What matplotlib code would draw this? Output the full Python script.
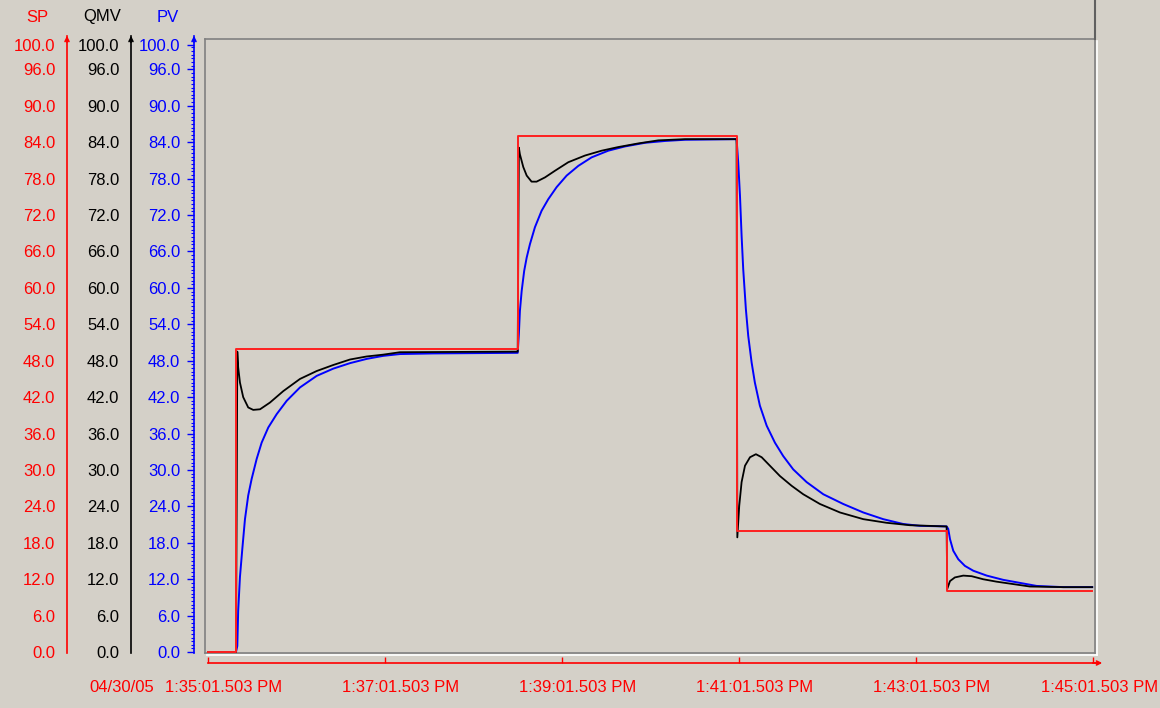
"""
SP / QMV / PV trend chart (setpoint steps with controller output and process value).
"""

import matplotlib
matplotlib.use("Agg")
import matplotlib.pyplot as plt
from matplotlib import font_manager
from matplotlib.transforms import blended_transform_factory, offset_copy

W, H = 1160, 708
BG = "#d4d0c8"

# ---- data (seconds after 04/30/05 1:35:01.503 PM) ----
sp_time = [0, 19.0, 210.0, 358.4, 500.8, 599.5]
sp_value = [0, 50, 85, 20, 10, 10]

pv_time = [0, 19.0,
           19.9, 20.5, 21.7, 23.3, 25.1, 27.3, 29.6, 33.0, 36.4, 40.9,
           46.6, 53.4, 62.4, 73.7, 85.0, 96.3, 107.6, 118.8, 130.2, 152.8,
           210.0,
           210.8, 211.5, 212.7, 214.4, 216.1, 218.3, 221.7, 226.2, 230.7,
           236.4, 243.2, 251.1, 260.1, 271.4, 282.7, 296.3, 309.8, 323.4,
           358.4,
           359.5, 360.7, 361.8, 362.9, 364.7, 366.3, 368.6, 370.8, 374.2,
           378.8, 384.4, 390.0, 396.8, 405.9, 417.2, 430.7, 444.3, 457.8,
           471.4, 482.7,
           500.8,
           501.9, 503.1, 505.3, 508.7, 513.2, 518.9, 528.0, 539.2, 550.5,
           561.8, 579.9, 599.5]
pv_value = [0, 0,
            1.0, 6.8, 12.4, 17.0, 21.9, 25.8, 28.5, 31.8, 34.5, 37.0,
            39.2, 41.4, 43.6, 45.5, 46.7, 47.6, 48.3, 48.8, 49.1, 49.2,
            49.3,
            52.4, 56.2, 59.5, 62.8, 65.0, 67.2, 70.0, 72.7, 74.6,
            76.6, 78.5, 80.1, 81.5, 82.6, 83.3, 83.9, 84.2, 84.4,
            84.5,
            80.7, 75.2, 68.6, 63.1, 56.5, 52.1, 47.7, 44.4, 40.6,
            37.3, 34.5, 32.3, 30.1, 28.0, 26.0, 24.4, 23.0, 21.9,
            21.1, 20.8,
            20.7,
            20.3, 18.6, 16.7, 15.3, 14.2, 13.4, 12.6, 11.9, 11.4,
            10.9, 10.7, 10.7]

qmv_time = [0, 19.0, 19.5, 19.9, 20.5, 21.7, 23.9, 27.3, 30.7, 35.3, 42.0,
            51.1, 62.4, 73.7, 85.0, 96.3, 107.6, 118.8, 130.2,
            210.0, 210.8, 211.5, 213.8, 216.1, 219.4, 222.8, 228.5, 235.3,
            244.3, 255.6, 266.9, 278.2, 291.8, 305.3, 323.4,
            358.4, 358.9, 360.2, 361.8, 364.1, 367.5, 371.5, 375.4, 381.0,
            387.8, 395.7, 403.6, 414.9, 428.5, 444.3, 460.1, 475.9,
            500.8, 501.2, 503.1, 506.4, 512.1, 517.8, 525.6, 534.7, 546.0,
            557.3, 579.9, 599.5]
qmv_value = [0, 0, 24.9, 49.5, 46.9, 44.4, 42.0, 40.3, 39.9, 40.0, 41.1,
             43.0, 45.0, 46.3, 47.3, 48.2, 48.7, 49.0, 49.4,
             49.5, 83.1, 82.0, 79.9, 78.5, 77.5, 77.5, 78.2, 79.3,
             80.7, 81.8, 82.6, 83.2, 83.8, 84.3, 84.5,
             84.5, 18.9, 24.1, 28.0, 30.7, 32.1, 32.6, 32.1, 30.7,
             29.0, 27.4, 26.0, 24.4, 23.0, 21.9, 21.3, 20.9,
             20.7, 10.4, 11.7, 12.3, 12.6, 12.5, 12.0, 11.6, 11.2,
             10.8, 10.7, 10.7]

y_ticks = [0, 6, 12, 18, 24, 30, 36, 42, 48, 54, 60, 66, 72, 78, 84, 90, 96, 100]
x_ticks = [0, 120, 240, 360, 480, 600]
x_labels = ["1:35:01.503 PM", "1:37:01.503 PM", "1:39:01.503 PM",
            "1:41:01.503 PM", "1:43:01.503 PM", "1:45:01.503 PM"]
date_label = "04/30/05"

# ---- font ----
names = {f.name for f in font_manager.fontManager.ttflist}
if "Liberation Sans Narrow" in names:
    FONT, FS = "Liberation Sans Narrow", 13.5
else:
    FONT, FS = "Liberation Sans", 12
plt.rcParams["font.family"] = [FONT, "DejaVu Sans"]


def fx(px):
    return px / W


def fy(py):
    return 1 - py / H


fig = plt.figure(figsize=(W / 100, H / 100), dpi=100, facecolor=BG)

# main plot area
ax = fig.add_axes([fx(205), fy(653), fx(1095 - 205), (653 - 39) / H])
ax.set_facecolor(BG)
ax.set_xlim(-2.0, 601.4)
ax.set_ylim(-0.15, 101.0)
ax.set_xticks([])
ax.set_yticks([])
for s in ax.spines.values():
    s.set_color("#808080")
    s.set_linewidth(1.2)

ax.plot(pv_time, pv_value, color="#0000ff", lw=1.4, zorder=3)
ax.plot(qmv_time, qmv_value, color="black", lw=1.3, zorder=4)
ax.plot(sp_time, sp_value, color="#ff2020", lw=1.4, drawstyle="steps-post", zorder=5)

# white highlight of the sunken frame
fig.add_artist(plt.Line2D([fx(1097), fx(1097)], [fy(41), fy(655)], color="white", lw=1.2))
fig.add_artist(plt.Line2D([fx(207), fx(1097)], [fy(655), fy(655)], color="white", lw=1.2))
fig.add_artist(plt.Line2D([fx(1095), fx(1095)], [fy(0), fy(39)], color="#606060", lw=1.5))

# y axes (SP, QMV, PV)
yfmt = [f"{v:.1f}" for v in y_ticks]
axes_spec = [("SP", "#ff0000", 67, 37, 0), ("QMV", "black", 131, 102, 0), ("PV", "#0000ff", 194, 168, 5)]
for name, col, xpos, title_x, tlen in axes_spec:
    a = fig.add_axes([fx(xpos), fy(653), 0.0001, (653 - 39) / H])
    a.set_ylim(ax.get_ylim())
    a.patch.set_visible(False)
    for s in a.spines.values():
        s.set_visible(False)
    a.set_xticks([])
    a.set_yticks(y_ticks)
    a.set_yticklabels(yfmt)
    a.tick_params(axis="y", colors=col, labelcolor=col, labelsize=FS,
                  length=tlen, width=1, pad=(11 - tlen) * 0.72 + 0.5)
    if tlen:
        a.set_yticks([i * 0.6 for i in range(167)], minor=True)
        a.tick_params(axis="y", which="minor", colors=col, length=2.5, width=0.8)
    fig.add_artist(plt.Line2D([fx(xpos), fx(xpos)], [fy(653), fy(36)], color=col, lw=1.2))
    a.annotate("", xy=(fx(xpos), fy(33)), xytext=(fx(xpos), fy(45)),
               xycoords="figure fraction", textcoords="figure fraction",
               arrowprops=dict(arrowstyle="->", color=col, lw=1.2, mutation_scale=7))
    fig.text(fx(title_x), fy(17), name, color=col, fontsize=FS, ha="center", va="center")

# x axis
fig.add_artist(plt.Line2D([fx(208), fx(1098)], [fy(663), fy(663)], color="#ff0000", lw=1.2))
ax.annotate("", xy=(fx(1105), fy(663)), xytext=(fx(1090), fy(663)),
            xycoords="figure fraction", textcoords="figure fraction",
            arrowprops=dict(arrowstyle="->", color="#ff0000", lw=1.2, mutation_scale=7))
axx = fig.add_axes([fx(205), fy(663), fx(1095 - 205), 0.0001])
axx.set_xlim(ax.get_xlim())
axx.patch.set_visible(False)
for s in axx.spines.values():
    s.set_visible(False)
axx.set_yticks([])
axx.set_xticks(x_ticks)
axx.set_xticklabels([])
axx.tick_params(axis="x", direction="in", colors="#ff0000", length=4, width=1)

trans = blended_transform_factory(ax.transData, fig.transFigure)
for t, lab in zip(x_ticks[:-1], x_labels[:-1]):
    tr = offset_copy(trans, fig=fig, x=-43, y=0, units="dots")
    fig.text(t, fy(687), lab, transform=tr, color="#ff0000", fontsize=FS,
             ha="left", va="center")
# last label would run past the right edge: pin it to the edge instead
fig.text(fx(1158), fy(687), x_labels[-1], color="#ff0000", fontsize=FS,
         ha="right", va="center")
tr = offset_copy(trans, fig=fig, x=-54, y=0, units="dots")
fig.text(x_ticks[0], fy(687), date_label, transform=tr, color="#ff0000",
         fontsize=FS, ha="right", va="center")

fig.savefig("out.png", dpi=100, facecolor=BG)
